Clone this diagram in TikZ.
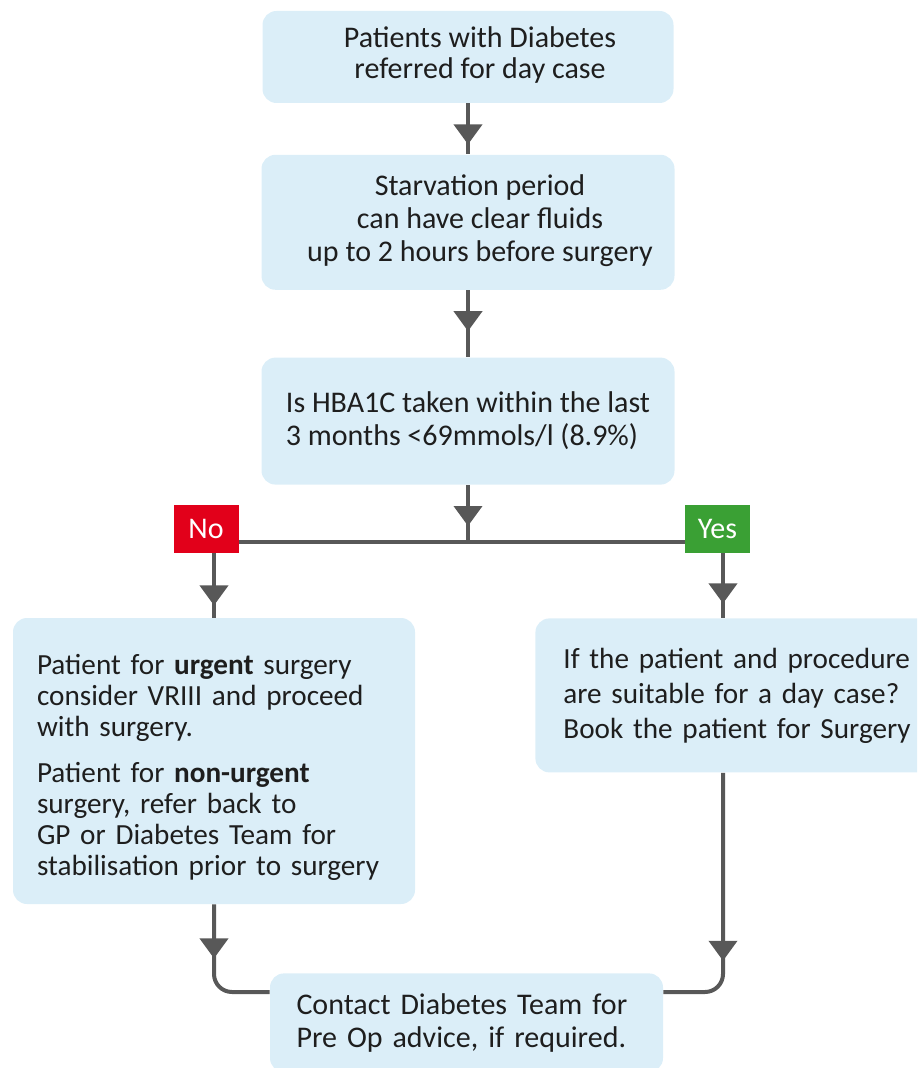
\documentclass[tikz,border=0pt]{standalone}
\usepackage{fontspec}
\setmainfont{Carlito}
\usetikzlibrary{positioning,arrows.meta,decorations.markings}
\definecolor{boxblue}{RGB}{219,238,248}
\definecolor{linegrey}{RGB}{88,88,88}
\definecolor{noRed}{RGB}{226,0,26}
\definecolor{yesGreen}{RGB}{58,160,52}
\definecolor{txtgrey}{RGB}{30,30,30}
% centred lines, pushed a little to the right
\newcommand{\offsetlines}[1]{\kern12pt\begin{tabular}{@{}c@{}}#1\end{tabular}}

\begin{document}
\begin{tikzpicture}[x=0.5pt,y=-0.5pt,
    block/.style={rectangle,rounded corners=7pt,fill=boxblue,text=txtgrey,
        font=\fontsize{15}{16.5}\selectfont,inner sep=0pt},
    tag/.style={rectangle,text=white,font=\fontsize{15}{16.5}\selectfont,
        minimum width=32.5pt,minimum height=24pt,inner sep=0pt},
% Edge styles
    flow/.style={draw=linegrey,line width=2pt,
        postaction={decorate,decoration={markings,
        mark=at position #1 with {\arrow[linegrey]{Triangle[width=14pt,length=10pt]}}}}},
    flow/.default=20.5pt,
    link/.style={draw=linegrey,line width=2pt}
    ]
    \useasboundingbox (0,0) rectangle (917,1068);
    \clip (0,0) rectangle (917,1068);

    % Place nodes
    \node [block,minimum width=205.5pt,minimum height=46pt,font=\fontsize{15}{15.5}\selectfont] (referral) at (468,57)
        {\offsetlines{Patients with Diabetes\\referred for day case}};
    \node [block,below=25.5pt of referral,minimum width=206.5pt,minimum height=67.5pt] (starve)
        {\offsetlines{Starvation period\\can have clear fluids\\up to 2 hours before surgery}};
    \node [block,below=33.5pt of starve,minimum width=206.5pt,minimum height=63.5pt,align=left] (hba1c)
        {Is HBA1C taken within the last\\3 months <69mmols/l (8.9\%)};
    \coordinate [below=28.5pt of hba1c] (split);

    \node [tag,fill=noRed] (no) at (206,529) {No};
    \node [tag,fill=yesGreen] (yes) at (717.5,529) {Yes};

    \node [block,text width=177pt,inner xsep=12pt,minimum height=143pt,align=left,
        font=\fontsize{14.6}{15.5}\selectfont] (urgent) at (214,761)
        {\rule{0pt}{16.5pt}Patient for \textbf{urgent} surgery\\consider VRIII and proceed\\with surgery.\\[7.5pt]
         Patient for \textbf{non-urgent}\\surgery, refer back to\\GP or Diabetes Team for\\stabilisation prior to surgery};
    \node [block,anchor=north west,text width=180pt,inner xsep=14pt,minimum height=77pt,align=left,
        font=\fontsize{14.6}{17.5}\selectfont] (daycase) at (535,618)
        {If the patient and procedure\\are suitable for a day case?\\Book the patient for Surgery};
    \node [block,anchor=north,text width=170pt,inner xsep=13.25pt,inner ysep=10pt,align=left] (contact) at (466.5,973)
        {Contact Diabetes Team for\\Pre Op advice, if required.};

    % Draw edges
    \draw [flow] (referral) -- (starve);
    \draw [flow] (starve) -- (hba1c);
    \draw [flow] (hba1c) -- (split);
    \draw [link] (no.east |- split) -- (yes.west |- split);
    \draw [flow=26pt] (no.south -| urgent.north) -- (urgent.north);
    \coordinate (yesdrop) at ([xshift=2.75pt]yes.south);
    \draw [flow=25pt] (yesdrop) -- (yesdrop |- daycase.north);
    \draw [flow=27pt,rounded corners=9pt] (urgent.south) |- ([yshift=-9.5pt]contact.north west);
    \draw [flow=94pt,rounded corners=9pt] (yesdrop |- daycase.south) |- ([yshift=-9.5pt]contact.north east);
\end{tikzpicture}
\end{document}
